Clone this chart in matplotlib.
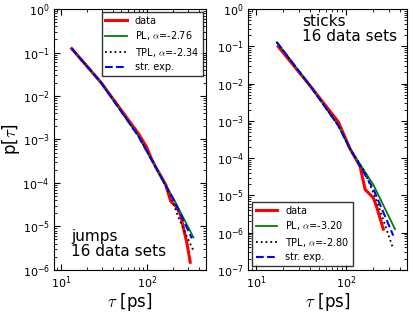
import matplotlib
matplotlib.use('Agg')
import matplotlib.pyplot as plt

plt.rcParams['mathtext.fontset'] = 'cm'
plt.rcParams['font.family'] = 'DejaVu Sans'

# jumps panel
j_data_t = [13.2, 28.9, 78.7, 97.7, 111, 127, 164, 187, 214, 243, 265, 290, 316]
j_data_p = [0.123, 0.0205, 1.37e-3, 6.8e-4, 3.7e-4, 2.2e-4, 9.1e-5, 3.8e-5, 2.95e-5, 1.9e-5, 8.7e-6, 4.0e-6, 1.5e-6]
j_pl_t = [13.2, 28.9, 78.7, 127, 208, 344]
j_pl_p = [0.123, 0.0205, 1.2e-3, 2.2e-4, 3.9e-5, 5.6e-6]
j_tpl_t = [13.2, 28.9, 78.7, 127, 187, 223, 277, 344]
j_tpl_p = [0.123, 0.0205, 1.2e-3, 2.2e-4, 5.0e-5, 1.9e-5, 6.9e-6, 2.8e-6]
j_se_t = [13.2, 28.9, 78.7, 127, 208, 330]
j_se_p = [0.123, 0.0205, 1.2e-3, 2.2e-4, 3.7e-5, 5.3e-6]

# sticks panel
s_data_t = [17.7, 40.1, 82.6, 111, 144, 164, 202, 221, 261]
s_data_p = [0.098, 8.7e-3, 9.3e-4, 1.8e-4, 6.0e-5, 1.43e-5, 8.6e-6, 4.7e-6, 1.24e-6]
s_pl_t = [17.1, 40.1, 82.6, 111, 202, 352]
s_pl_p = [0.128, 8.7e-3, 7.4e-4, 1.8e-4, 1.94e-5, 1.24e-6]
s_tpl_t = [17.1, 40.1, 82.6, 111, 160, 221, 337]
s_tpl_p = [0.128, 8.7e-3, 7.4e-4, 1.8e-4, 4.5e-5, 7.0e-6, 3.6e-7]
s_se_t = [17.1, 40.1, 82.6, 111, 202, 337]
s_se_p = [0.128, 8.7e-3, 7.4e-4, 1.8e-4, 1.49e-5, 8.3e-7]

x_major = [10, 100]
j_yticks = [1e-6, 1e-5, 1e-4, 1e-3, 1e-2, 1e-1, 1]
s_yticks = [1e-7, 1e-6, 1e-5, 1e-4, 1e-3, 1e-2, 1e-1, 1]

j_labels = ['data', r'PL, $\alpha$=-2.76', r'TPL, $\alpha$=-2.34', 'str. exp.']
s_labels = ['data', r'PL, $\alpha$=-3.20', r'TPL, $\alpha$=-2.80', 'str. exp.']

fig = plt.figure(figsize=(4.15, 3.12), dpi=100)
ax1 = fig.add_axes([0.130, 0.135, 0.366, 0.836])
ax2 = fig.add_axes([0.598, 0.135, 0.383, 0.836])


def draw(ax, series, labels, yticks):
    styles = [dict(color='red', lw=2.2, ls='-'),
              dict(color='green', lw=1.3, ls='-'),
              dict(color='black', lw=1.3, ls=':'),
              dict(color='blue', lw=1.5, ls='--')]
    for (t, p), st, lab in zip(series, styles, labels):
        ax.plot(t, p, label=lab, **st)
    ax.set_xscale('log')
    ax.set_yscale('log')
    ax.set_xticks(x_major)
    ax.set_yticks(yticks)
    ax.set_xlim(8.2, 480)
    ax.set_ylim(yticks[0], yticks[-1])
    ax.tick_params(which='both', direction='in', top=True, right=True, labelsize=8, pad=3)
    ax.tick_params(which='major', length=4)
    ax.tick_params(which='minor', length=2)
    ax.set_xlabel(r'$\tau$ [ps]', fontsize=12, labelpad=0)


draw(ax1, [(j_data_t, j_data_p), (j_pl_t, j_pl_p), (j_tpl_t, j_tpl_p), (j_se_t, j_se_p)], j_labels, j_yticks)
ax1.set_ylabel(r'p[$\tau$]', fontsize=12, labelpad=0)
ax1.legend(loc='upper right', fontsize=7, frameon=True, fancybox=False, edgecolor='black',
           borderaxespad=0.3, handlelength=2.2, labelspacing=0.35)
ax1.text(0.115, 0.04, 'jumps\n16 data sets', transform=ax1.transAxes, fontsize=11,
         ha='left', va='bottom', linespacing=1.0)

draw(ax2, [(s_data_t, s_data_p), (s_pl_t, s_pl_p), (s_tpl_t, s_tpl_p), (s_se_t, s_se_p)], s_labels, s_yticks)
ax2.legend(loc='lower left', fontsize=7, frameon=True, fancybox=False, edgecolor='black',
           borderaxespad=0.4, handlelength=2.2, labelspacing=0.35)
ax2.text(0.34, 0.98, 'sticks\n16 data sets', transform=ax2.transAxes, fontsize=11,
         ha='left', va='top', linespacing=1.0)

fig.savefig('out.png', dpi=100)
